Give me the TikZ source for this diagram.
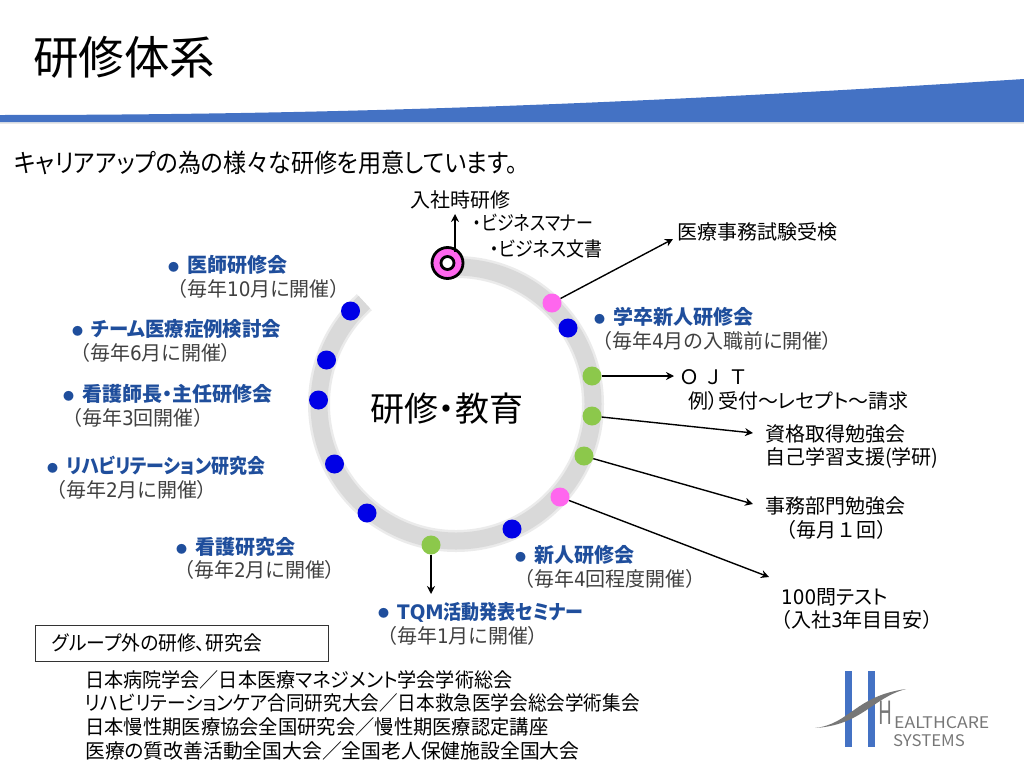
\documentclass[tikz,border=0pt]{standalone}
\usepackage{fontspec}
\usepackage{graphicx}
\setmainfont{Noto Sans CJK JP}[RawFeature={+palt}]
\newfontfamily\fwfont{Noto Sans CJK JP}
\newfontfamily\latfont{DejaVu Sans}
\newcommand{\fs}[1]{\fontsize{#1}{#1}\selectfont}
\newcommand{\xs}[2]{\scalebox{#1}[1]{#2}}
\newcommand{\lat}[1]{{\latfont\scalebox{0.92}[1]{#1}}}
\newcommand{\bul}{\raisebox{1.5pt}{\fs{11}●}\hspace{8pt}}
\definecolor{hblue}{HTML}{4472C4}
\definecolor{dblue}{HTML}{1F4E9C}
\definecolor{ringg}{HTML}{D9D9D9}
\definecolor{ringl}{HTML}{EBEBEB}
\definecolor{pinkd}{HTML}{FF66EE}
\definecolor{greend}{HTML}{8CC84B}
\definecolor{bluedot}{HTML}{0000E6}
\definecolor{graytxt}{HTML}{404040}
\definecolor{logog}{HTML}{777777}
\usetikzlibrary{arrows.meta,calc}
\tikzset{
 txt/.style={inner sep=0pt,anchor=west,align=left,text=black,font=\fs{20}},
 head/.style={inner sep=0pt,anchor=west,text=dblue,font=\fs{20}\bfseries},
 sub/.style={inner sep=0pt,anchor=west,text=graytxt,font=\fs{20}},
 bdot/.style={circle,fill=bluedot,minimum size=19pt,inner sep=0pt},
 gdot/.style={circle,fill=greend,minimum size=19pt,inner sep=0pt},
 pdot/.style={circle,fill=pinkd,minimum size=19pt,inner sep=0pt},
 con/.style={draw=black,line width=1.4pt,-{Stealth[length=8pt,width=8pt]}},
 logotxt/.style={inner sep=0pt,anchor=west,text=logog},
}
\begin{document}
\begin{tikzpicture}[x=1pt,y=-1pt]
\useasboundingbox (0,0) rectangle (1024,768);
% header band
\fill[gray!18] (0,122) rectangle (1024,124);
\fill[hblue] (0,115) .. controls (350,115) and (650,103) .. (1024,79) -- (1024,122) -- (0,122) -- cycle;
\node[txt,font=\fs{45.5}] (title) at (33,57) {研修体系};
\node[txt,font=\fs{25.5}] (lead) at (14,163) {\xs{0.905}{キャリアアップの為の様々な研修を用意しています。}};
% ring
\coordinate (ringstart) at ($(456,404)+(-93:137)$);
\draw[ringl,line width=22pt] (ringstart) arc[start angle=-93,end angle=228,radius=137];
\draw[ringg,line width=17pt] (ringstart) arc[start angle=-93,end angle=228,radius=137];
% dots
\node[bdot] (d1) at (350.5,311) {};
\node[bdot] (d2) at (326.5,360) {};
\node[bdot] (d3) at (318.5,400) {};
\node[bdot] (d4) at (334.5,464) {};
\node[bdot] (d5) at (367,513) {};
\node[bdot] (d6) at (512,529) {};
\node[bdot] (d7) at (568,328) {};
\node[gdot] (g1) at (592,376) {};
\node[gdot] (g2) at (592,416) {};
\node[gdot] (g3) at (584,456) {};
\node[gdot] (g4) at (431,545) {};
\node[pdot] (p1) at (552,303) {};
\node[pdot] (p2) at (560,497) {};
\node[circle,fill=pinkd,draw=black,line width=2.8pt,minimum size=31pt,inner sep=0pt] (st) at (447.5,263) {};
\node[circle,fill=white,draw=black,line width=2.8pt,minimum size=13pt,inner sep=0pt] (sti) at (447.5,263) {};
% centre
\node[txt,font=\fs{34}] (centre) at (370,409) {研修・教育};
% right labels
\node[txt] (t1) at (410,200) {入社時研修};
\node[txt] (t2) at (473,223) {\xs{0.85}{・ビジネスマナー}};
\node[txt] (t3) at (490,249) {\xs{0.9}{・ビジネス文書}};
\node[txt] (t4) at (677,232) {医療事務試験受検};
\node[head] (t5) at (594,317) {\bul 学卒新人研修会};
\node[sub] (t5b) at (602,341) {（毎年\lat{4}月の入職前に開催）};
\node[txt] (t6) at (679,377) {{\fwfont Ｏ Ｊ Ｔ}};
\node[txt] (t6b) at (688,401) {例）受付～レセプト～請求};
\node[txt] (t7) at (765,434) {資格取得勉強会};
\node[txt] (t7b) at (765,458) {自己学習支援(学研)};
\node[txt] (t8) at (765,506) {事務部門勉強会};
\node[txt] (t8b) at (776,530) {{\fwfont （毎月１回）}};
\node[txt] (t9) at (781,597) {\lat{100}問テスト};
\node[txt] (t9b) at (781,620) {（入社\lat{3}年目目安）};
\node[head] (a1) at (515,555) {\bul 新人研修会};
\node[sub] (a1b) at (524,579) {（毎年\lat{4}回程度開催）};
\node[head] (a2) at (378,612) {\bul {\latfont\bfseries\xs{0.92}{TQM}}\xs{0.9}{活動発表セミナー}};
\node[sub] (a2b) at (387,636) {（毎年\lat{1}月に開催）};
% left labels
\node[head] (l1) at (168,265) {\bul 医師研修会};
\node[sub] (l1b) at (177,289) {（毎年\lat{10}月に開催）};
\node[head] (l2) at (72,329) {\bul \xs{0.97}{チーム医療症例検討会}};
\node[sub] (l2b) at (80,353) {（毎年\lat{6}月に開催）};
\node[head] (l3) at (63,394) {\bul 看護師長・主任研修会};
\node[sub] (l3b) at (72,418) {（毎年\lat{3}回開催）};
\node[head] (l4) at (47,466) {\bul \xs{0.895}{リハビリテーション研究会}};
\node[sub] (l4b) at (56,490) {（毎年\lat{2}月に開催）};
\node[head] (l5) at (176,547) {\bul 看護研究会};
\node[sub] (l5b) at (184,570) {（毎年\lat{2}月に開催）};
% connectors
\coordinate (ca1) at (455,252);
\coordinate (ca0) at (455,214);
\draw[con] (ca1) -- (ca0);
\coordinate (c1) at (673,239);
\draw[con] (p1) -- (c1);
\coordinate (c2) at (674,376);
\draw[con] (g1) -- (c2);
\coordinate (c3) at (753,433);
\draw[con] (g2) -- (c3);
\coordinate (c4) at (753,504);
\draw[con] (g3) -- (c4);
\coordinate (c5) at (769,577);
\draw[con] (p2) -- (c5);
\coordinate (c6) at (431,594);
\draw[con] (g4) -- (c6);
% group box
\node[draw=black!80,line width=1pt,minimum width=293pt,minimum height=36pt,inner sep=0pt,anchor=north west] (box) at (35,625) {};
\node[txt] (boxt) at (52,643) {\xs{0.94}{グループ外の研修、研究会}};
\node[txt] (g1t) at (85,680) {\xs{0.955}{日本病院学会／日本医療マネジメント学会学術総会}};
\node[txt] (g2t) at (85,703) {\xs{0.93}{リハビリテーションケア合同研究大会／日本救急医学会総会学術集会}};
\node[txt] (g3t) at (85,727) {\xs{0.965}{日本慢性期医療協会全国研究会／慢性期医療認定講座}};
\node[txt] (g4t) at (85,751) {\xs{0.99}{医療の質改善活動全国大会／全国老人保健施設全国大会}};
% logo
\fill[hblue] (845,671) rectangle (852,747);
\fill[hblue] (868,671) rectangle (875,747);
\fill[logog] (815,728) .. controls (850,724) and (855,696) .. (906,689) .. controls (872,698) and (862,725) .. (815,728) -- cycle;
\node[logotxt,font=\fs{32}] (lg1) at (878,713) {\xs{0.6}{H}};
\node[logotxt,font=\fs{16}] (lg2) at (894,723) {\xs{1.1}{EALTHCARE}};
\node[logotxt,font=\fs{16}] (lg3) at (893,741) {\xs{1.05}{SYSTEMS}};
\end{tikzpicture}
\end{document}
